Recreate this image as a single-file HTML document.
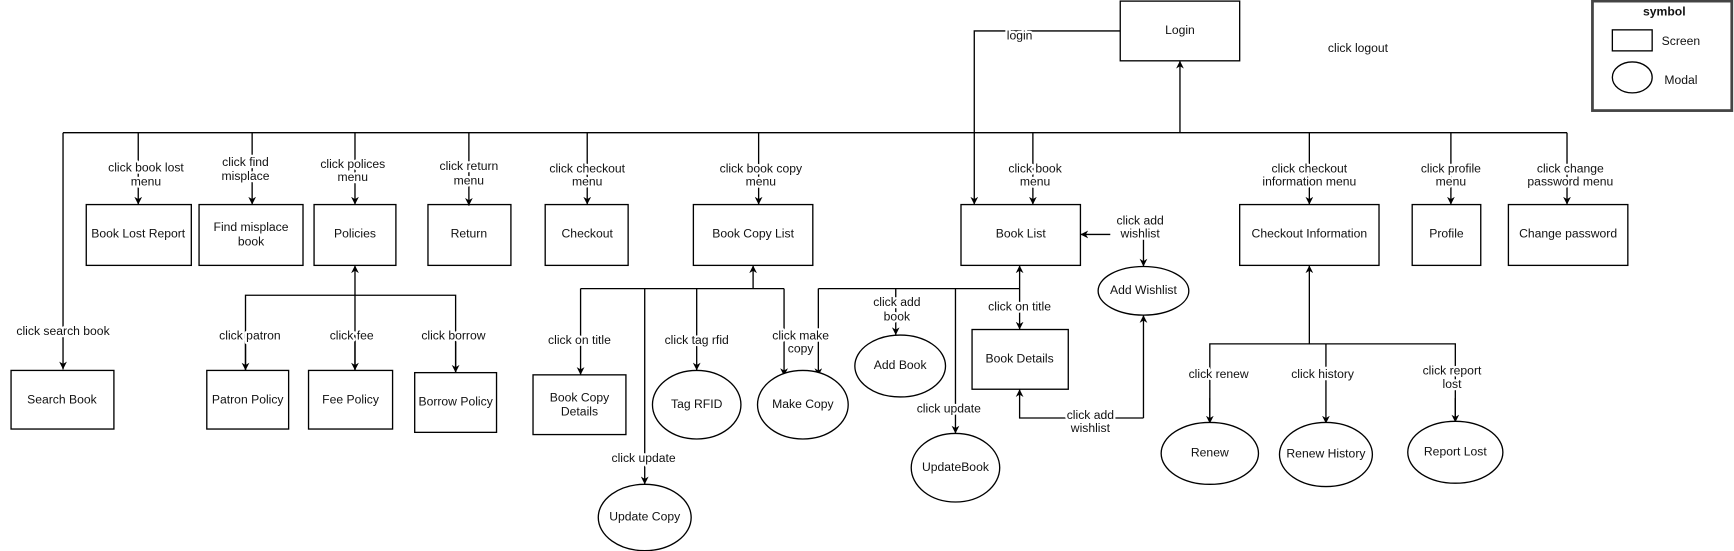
<!DOCTYPE html>
<html><head><meta charset="utf-8"><style>
html,body{margin:0;padding:0;background:#fff;width:1734px;height:551px;overflow:hidden}
svg{display:block}
text{font-family:"Liberation Sans",sans-serif;font-size:11px;fill:#111;text-anchor:middle;dominant-baseline:middle}
.l{paint-order:stroke;stroke:#fff;stroke-width:4px;stroke-linejoin:round}
</style></head><body>
<svg width="1734" height="551" viewBox="0 0 1568 498.3" preserveAspectRatio="none" xmlns="http://www.w3.org/2000/svg">
<defs><marker id="a" viewBox="0 0 10 10" refX="10" refY="5" markerWidth="7" markerHeight="7" orient="auto" markerUnits="userSpaceOnUse"><path d="M0,0 L10,5 L0,10 L3,5 z" fill="#000"/></marker></defs>
<g stroke="#000" stroke-width="1.2" fill="none">
<!-- main bus -->
<line x1="57" y1="120" x2="1417" y2="120"/>
<line x1="1067" y1="120" x2="1067" y2="55" marker-end="url(#a)"/>
<polyline points="1013,28 881,28 881,185" marker-end="url(#a)"/>
<line x1="57" y1="120" x2="57" y2="334" marker-end="url(#a)"/>
<line x1="125" y1="120" x2="125" y2="185" marker-end="url(#a)"/>
<line x1="228" y1="120" x2="228" y2="185" marker-end="url(#a)"/>
<line x1="321" y1="120" x2="321" y2="185" marker-end="url(#a)"/>
<line x1="424" y1="120" x2="424" y2="186" marker-end="url(#a)"/>
<line x1="531" y1="120" x2="531" y2="185" marker-end="url(#a)"/>
<line x1="686" y1="120" x2="686" y2="185" marker-end="url(#a)"/>
<line x1="934" y1="120" x2="934" y2="185" marker-end="url(#a)"/>
<line x1="1184" y1="120" x2="1184" y2="185" marker-end="url(#a)"/>
<line x1="1312" y1="120" x2="1312" y2="185" marker-end="url(#a)"/>
<line x1="1417" y1="120" x2="1417" y2="185" marker-end="url(#a)"/>
<!-- policies -->
<line x1="321" y1="335" x2="321" y2="240" marker-end="url(#a)"/>
<polyline points="222,335 222,267 412,267 412,337"/>
<line x1="222" y1="300" x2="222" y2="335" marker-end="url(#a)"/>
<line x1="321" y1="300" x2="321" y2="335" marker-end="url(#a)"/>
<line x1="412" y1="300" x2="412" y2="337" marker-end="url(#a)"/>
<!-- book copy list -->
<line x1="681" y1="261" x2="681" y2="240" marker-end="url(#a)"/>
<line x1="525" y1="261" x2="709" y2="261"/>
<line x1="525" y1="261" x2="525" y2="339" marker-end="url(#a)"/>
<line x1="583" y1="261" x2="583" y2="438" marker-end="url(#a)"/>
<line x1="630" y1="261" x2="630" y2="335" marker-end="url(#a)"/>
<line x1="709" y1="261" x2="709" y2="340" marker-end="url(#a)"/>
<!-- book list -->
<line x1="922" y1="261" x2="922" y2="240" marker-end="url(#a)"/>
<line x1="740" y1="261" x2="922" y2="261"/>
<line x1="740" y1="261" x2="740" y2="340" marker-end="url(#a)"/>
<line x1="810" y1="261" x2="810" y2="303" marker-end="url(#a)"/>
<line x1="864" y1="261" x2="864" y2="392" marker-end="url(#a)"/>
<line x1="922" y1="261" x2="922" y2="298" marker-end="url(#a)"/>
<line x1="1004" y1="212" x2="977" y2="212" marker-end="url(#a)"/>
<line x1="1034" y1="212" x2="1034" y2="241" marker-end="url(#a)"/>
<polyline points="1034,378 922,378 922,352" marker-end="url(#a)"/>
<line x1="1034" y1="378" x2="1034" y2="285" marker-end="url(#a)"/>
<!-- checkout info -->
<line x1="1184" y1="311" x2="1184" y2="240" marker-end="url(#a)"/>
<polyline points="1094,383 1094,311 1316,311 1316,382"/>
<line x1="1094" y1="360" x2="1094" y2="383" marker-end="url(#a)"/>
<line x1="1199" y1="311" x2="1199" y2="383" marker-end="url(#a)"/>
<line x1="1316" y1="360" x2="1316" y2="382" marker-end="url(#a)"/>
<!-- boxes -->
<rect x="1013" y="1" width="108" height="54"/>
<rect x="10" y="335" width="93" height="53"/>
<rect x="78" y="185" width="95" height="55"/>
<rect x="180" y="185" width="94" height="55"/>
<rect x="284" y="185" width="74" height="55"/>
<rect x="387" y="185" width="75" height="55"/>
<rect x="493" y="185" width="75" height="55"/>
<rect x="627" y="185" width="108" height="55"/>
<rect x="869" y="185" width="108" height="55"/>
<rect x="1121" y="185" width="126" height="55"/>
<rect x="1277" y="185" width="62" height="55"/>
<rect x="1364" y="185" width="108" height="55"/>
<rect x="187" y="335" width="74" height="53"/>
<rect x="279" y="335" width="76" height="53"/>
<rect x="375" y="337" width="74" height="54"/>
<rect x="482" y="339" width="84" height="54"/>
<rect x="879" y="298" width="87" height="54"/>
<ellipse cx="583" cy="468" rx="42" ry="30" fill="#fff"/>
<ellipse cx="630" cy="366" rx="40" ry="31" fill="#fff"/>
<ellipse cx="726" cy="366" rx="41" ry="31" fill="#fff"/>
<ellipse cx="814" cy="331" rx="41" ry="28" fill="#fff"/>
<ellipse cx="864" cy="423" rx="40" ry="31" fill="#fff"/>
<ellipse cx="1034" cy="263" rx="41" ry="22" fill="#fff"/>
<ellipse cx="1094" cy="410" rx="44" ry="28" fill="#fff"/>
<ellipse cx="1199" cy="411" rx="42" ry="29" fill="#fff"/>
<ellipse cx="1316" cy="409" rx="43" ry="28" fill="#fff"/>
<!-- legend -->
<rect x="1440" y="1" width="126" height="99" stroke="#444" stroke-width="2.5"/>
<rect x="1458" y="27" width="36" height="19"/>
<ellipse cx="1476" cy="70" rx="18" ry="14"/>
</g>
<text x="1067" y="28">Login</text>
<text x="922" y="33" class="l">login</text>
<text x="1228" y="44">click logout</text>
<text x="1505" y="11" style="font-weight:bold">symbol</text>
<text x="1520" y="38">Screen</text>
<text x="1520" y="73">Modal</text>
<text x="57" y="300" class="l">click search book</text>
<text x="132" y="152" class="l">click book lost</text><text x="132" y="165" class="l">menu</text>
<text x="222" y="147" class="l">click find</text><text x="222" y="160" class="l">misplace</text>
<text x="319" y="149" class="l">click polices</text><text x="319" y="161" class="l">menu</text>
<text x="424" y="151" class="l">click return</text><text x="424" y="164" class="l">menu</text>
<text x="531" y="153" class="l">click checkout</text><text x="531" y="165" class="l">menu</text>
<text x="688" y="153" class="l">click  book copy</text><text x="688" y="165" class="l">menu</text>
<text x="936" y="153" class="l">click  book</text><text x="936" y="165" class="l">menu</text>
<text x="1184" y="153" class="l">click checkout</text><text x="1184" y="165" class="l">information menu</text>
<text x="1312" y="153" class="l">click profile</text><text x="1312" y="165" class="l">menu</text>
<text x="1420" y="153" class="l">click change</text><text x="1420" y="165" class="l">password menu</text>
<text x="56" y="362">Search Book</text>
<text x="125" y="212">Book Lost Report</text>
<text x="227" y="206">Find misplace</text><text x="227" y="219">book</text>
<text x="321" y="212">Policies</text>
<text x="424" y="212">Return</text>
<text x="531" y="212">Checkout</text>
<text x="681" y="212">Book Copy List</text>
<text x="923" y="212">Book List</text>
<text x="1184" y="212">Checkout Information</text>
<text x="1308" y="212">Profile</text>
<text x="1418" y="212">Change password</text>
<text x="226" y="304" class="l">click patron</text>
<text x="318" y="304" class="l">click fee</text>
<text x="410" y="304" class="l">click borrow</text>
<text x="224" y="362">Patron Policy</text>
<text x="317" y="362">Fee Policy</text>
<text x="412" y="364">Borrow Policy</text>
<text x="524" y="308" class="l">click on title</text>
<text x="524" y="360">Book Copy</text><text x="524" y="373">Details</text>
<text x="582" y="415" class="l">click update</text>
<text x="583" y="468">Update Copy</text>
<text x="630" y="308" class="l">click tag rfid</text>
<text x="630" y="366">Tag RFID</text>
<text x="724" y="304" class="l">click make</text><text x="724" y="316" class="l">copy</text>
<text x="726" y="366">Make Copy</text>
<text x="811" y="274" class="l">click add</text><text x="811" y="287" class="l">book</text>
<text x="814" y="331">Add Book</text>
<text x="858" y="370" class="l">click update</text>
<text x="864" y="423">UpdateBook</text>
<text x="922" y="278" class="l">click on title</text>
<text x="922" y="325">Book Details</text>
<text x="1031" y="200" class="l">click add</text><text x="1031" y="212" class="l">wishlist</text>
<text x="1034" y="263">Add Wishlist</text>
<text x="986" y="376" class="l">click add</text><text x="986" y="388" class="l">wishlist</text>
<text x="1102" y="339" class="l">click renew</text>
<text x="1196" y="339" class="l">click history</text>
<text x="1313" y="336" class="l">click report</text><text x="1313" y="348" class="l">lost</text>
<text x="1094" y="410">Renew</text>
<text x="1199" y="411">Renew History</text>
<text x="1316" y="409">Report Lost</text>
</svg>
</body></html>
